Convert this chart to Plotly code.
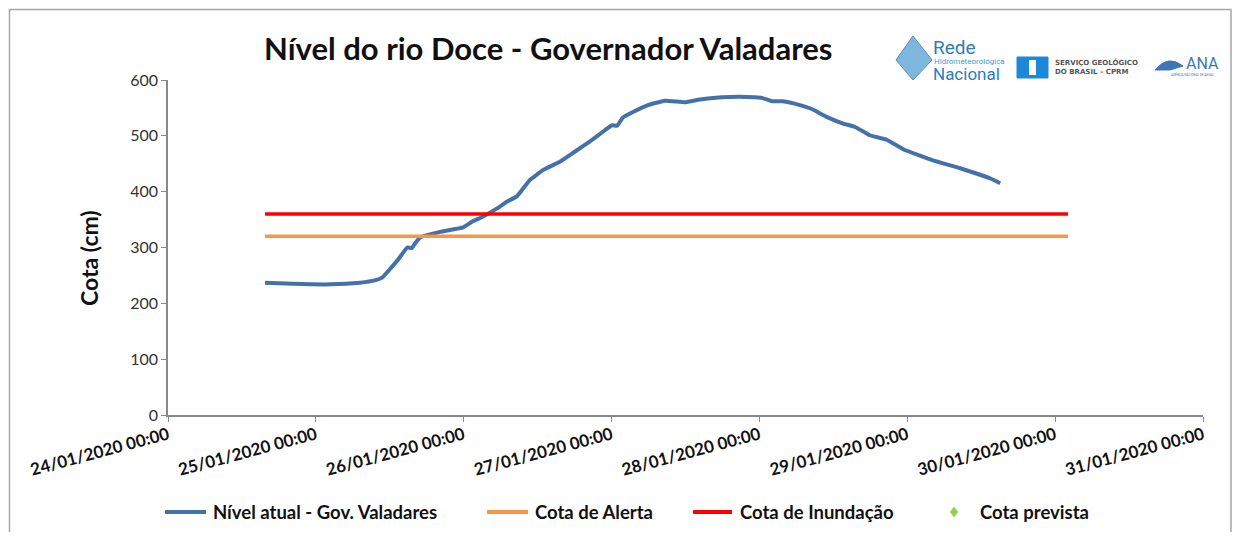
import plotly.graph_objects as go

# ---- data ----
times = [
    "2020-01-24 15:45", "2020-01-24 20:15", "2020-01-25 02:20", "2020-01-25 07:10",
    "2020-01-25 09:35", "2020-01-25 10:45", "2020-01-25 13:20", "2020-01-25 14:50",
    "2020-01-25 15:35", "2020-01-25 16:05", "2020-01-25 16:55", "2020-01-25 20:10",
    "2020-01-25 23:55", "2020-01-26 01:20", "2020-01-26 03:05", "2020-01-26 05:25",
    "2020-01-26 07:00", "2020-01-26 08:40", "2020-01-26 10:45", "2020-01-26 12:55",
    "2020-01-26 15:40", "2020-01-26 18:05", "2020-01-26 20:30", "2020-01-26 22:55",
    "2020-01-27 00:05", "2020-01-27 00:55", "2020-01-27 01:50", "2020-01-27 03:00",
    "2020-01-27 05:55", "2020-01-27 08:40", "2020-01-27 11:55", "2020-01-27 14:20",
    "2020-01-27 17:55", "2020-01-27 20:50", "2020-01-27 23:15", "2020-01-28 00:25",
    "2020-01-28 02:05", "2020-01-28 03:50", "2020-01-28 06:35", "2020-01-28 08:30",
    "2020-01-28 11:05", "2020-01-28 13:35", "2020-01-28 15:30", "2020-01-28 17:55",
    "2020-01-28 20:40", "2020-01-28 23:20", "2020-01-29 04:10", "2020-01-29 08:35",
    "2020-01-29 13:25", "2020-01-29 15:05",
]
nivel = [
    237, 235, 234, 237,
    241, 246, 278, 300,
    299, 307, 318, 328,
    336, 346, 355, 370,
    382, 392, 421, 439,
    454, 472, 490, 510,
    519, 518, 533, 540,
    555, 563, 560, 565,
    569, 570, 569, 568,
    562, 562, 555, 548,
    533, 522, 516, 501,
    493, 476, 456, 442,
    424, 415,
]
ref_times = ["2020-01-24 15:45", "2020-01-30 02:05"]
cota_alerta = [320, 320]
cota_inundacao = [360, 360]

x_ticks = ["2020-01-24", "2020-01-25", "2020-01-26", "2020-01-27",
           "2020-01-28", "2020-01-29", "2020-01-30", "2020-01-31"]
x_ticklabels = ["24/01/2020 00:00", "25/01/2020 00:00", "26/01/2020 00:00", "27/01/2020 00:00",
                "28/01/2020 00:00", "29/01/2020 00:00", "30/01/2020 00:00", "31/01/2020 00:00"]
y_ticks = [0, 100, 200, 300, 400, 500, 600]

legend_names = ["Nível atual - Gov. Valadares", "Cota de Alerta", "Cota de Inundação", "Cota prevista"]
legend_colors = ["#4472A8", "#F79646", "#FF0000", "#92D050"]

FONT = "Lato"
BLUE, ORANGE, RED, GREEN = legend_colors

fig = go.Figure()
fig.add_trace(go.Scatter(x=times, y=nivel, mode="lines", name=legend_names[0],
                         line=dict(color=BLUE, width=4, shape="spline", smoothing=0.3)))
fig.add_trace(go.Scatter(x=ref_times, y=cota_alerta, mode="lines", name=legend_names[1],
                         line=dict(color=ORANGE, width=3.5)))
fig.add_trace(go.Scatter(x=ref_times, y=cota_inundacao, mode="lines", name=legend_names[2],
                         line=dict(color=RED, width=3.5)))
fig.add_trace(go.Scatter(x=[None], y=[None], mode="markers", name=legend_names[3],
                         marker=dict(color=GREEN, symbol="diamond", size=8)))

# page geometry (browser adds 8px body margin)
OFF = 8
FW, FH = 1224, 524
L, R, T, B = 168, 1203, 80, 415  # plot area in page pixels
W = R - L
H = B - T


def px(x):
    return (x - L) / W


def py(y):
    return (B - y) / H


fig.update_layout(
    width=FW, height=FH,
    margin=dict(l=L - OFF, r=FW - (R - OFF), t=T - OFF, b=FH - (B - OFF), autoexpand=False),
    paper_bgcolor="white", plot_bgcolor="white",
    font=dict(family=FONT, color="#222222"),
    showlegend=False,
    xaxis=dict(type="date", range=[x_ticks[0], x_ticks[-1]], tickmode="array",
               tickvals=x_ticks, ticktext=x_ticklabels, tickangle=-15,
               showgrid=False, zeroline=False, showline=True, linecolor="#888888", linewidth=1.5,
               ticks="outside", ticklen=5, tickcolor="#888888", ticklabelstandoff=-3,
               tickfont=dict(family=FONT, size=17, color="#111111", weight="bold")),
    yaxis=dict(range=[0, 600], tickmode="array", tickvals=y_ticks,
               showgrid=False, zeroline=False, showline=True, linecolor="#888888", linewidth=1.5,
               ticks="outside", ticklen=5, tickcolor="#888888",
               tickfont=dict(family=FONT, size=16, color="#333333")),
)

# title
fig.add_annotation(text="Nível do rio Doce - Governador Valadares", xref="paper", yref="paper",
                   x=px(548), y=py(48), xanchor="center", yanchor="middle", showarrow=False,
                   font=dict(family=FONT, size=31, color="#111111", weight="bold"))
# y title
fig.add_annotation(text="Cota (cm)", xref="paper", yref="paper", x=px(89), y=py(258),
                   xanchor="center", yanchor="middle", textangle=-90, showarrow=False,
                   font=dict(family=FONT, size=23, color="#111111", weight="bold"))

# outer border
fig.add_shape(type="rect", xref="paper", yref="paper", x0=px(9.5), x1=px(1231), y0=py(560), y1=py(9.5),
              line=dict(color="#A6A6A6", width=1.5), layer="below")

# manual legend
LY = 512
leg_line_x = [(165, 206), (487, 528), (693, 732)]
leg_text_x = [211, 533, 738, 978]
for i, (a, b) in enumerate(leg_line_x):
    fig.add_shape(type="line", xref="paper", yref="paper", x0=px(a), x1=px(b), y0=py(LY), y1=py(LY),
                  line=dict(color=legend_colors[i], width=4))
DX, DY = 4, 5
fig.add_shape(type="path", xref="paper", yref="paper",
              path=(f"M {px(954 - DX)},{py(LY)} L {px(954)},{py(LY - DY)} "
                    f"L {px(954 + DX)},{py(LY)} L {px(954)},{py(LY + DY)} Z"),
              fillcolor=GREEN, line=dict(color=GREEN, width=0.5))
for i, name in enumerate(legend_names):
    fig.add_annotation(text=name, xref="paper", yref="paper", x=px(leg_text_x[i]), y=py(LY),
                       xanchor="left", yanchor="middle", showarrow=False,
                       font=dict(family=FONT, size=18.5, color="#111111", weight="bold"))

# logos (approximated with text/shapes)
fig.add_shape(type="path", xref="paper", yref="paper",
              path=f"M {px(896)},{py(60)} L {px(913)},{py(36)} L {px(932)},{py(60)} L {px(913)},{py(80)} Z",
              fillcolor="#7FB6DB", line=dict(color="#4F8FC4", width=1))
fig.add_annotation(text="Rede", xref="paper", yref="paper", x=px(931), y=py(48), xanchor="left",
                   yanchor="middle", showarrow=False, font=dict(family="Roboto", size=19, color="#2D7DBA"))
fig.add_annotation(text="Hidrometeorológica", xref="paper", yref="paper", x=px(932), y=py(62),
                   xanchor="left", yanchor="middle", showarrow=False,
                   font=dict(family="Roboto", size=8, color="#3AA0DA"))
fig.add_annotation(text="Nacional", xref="paper", yref="paper", x=px(931), y=py(74), xanchor="left",
                   yanchor="middle", showarrow=False, font=dict(family="Roboto", size=17, color="#2D7DBA"))
fig.add_shape(type="rect", xref="paper", yref="paper", x0=px(1017), x1=px(1048), y0=py(78), y1=py(57),
              fillcolor="#1E88D8", line=dict(color="#1E88D8", width=1))
fig.add_shape(type="rect", xref="paper", yref="paper", x0=px(1029), x1=px(1036), y0=py(75), y1=py(60),
              fillcolor="white", line=dict(color="white", width=0))
fig.add_annotation(text="SERVIÇO GEOLÓGICO<br>DO BRASIL – CPRM", xref="paper", yref="paper",
                   x=px(1053), y=py(67), xanchor="left", yanchor="middle", showarrow=False, align="left",
                   font=dict(family="DejaVu Sans", size=7, color="#555555", weight="bold"))
fig.add_shape(type="path", xref="paper", yref="paper",
              path=f"M {px(1155)},{py(70)} Q {px(1168)},{py(54)} {px(1183)},{py(66)} L {px(1170)},{py(70)} Z",
              fillcolor="#3E77B8", line=dict(color="#3E77B8", width=1))
fig.add_annotation(text="ANA", xref="paper", yref="paper", x=px(1184), y=py(63), xanchor="left",
                   yanchor="middle", showarrow=False, font=dict(family="Roboto", size=16, color="#3E77B8"))
fig.add_annotation(text="AGÊNCIA NACIONAL DE ÁGUAS", xref="paper", yref="paper", x=px(1192), y=py(75),
                   xanchor="center", yanchor="middle", showarrow=False,
                   font=dict(family="Roboto", size=3, color="#3E77B8"))

fig.write_html("out.html")
